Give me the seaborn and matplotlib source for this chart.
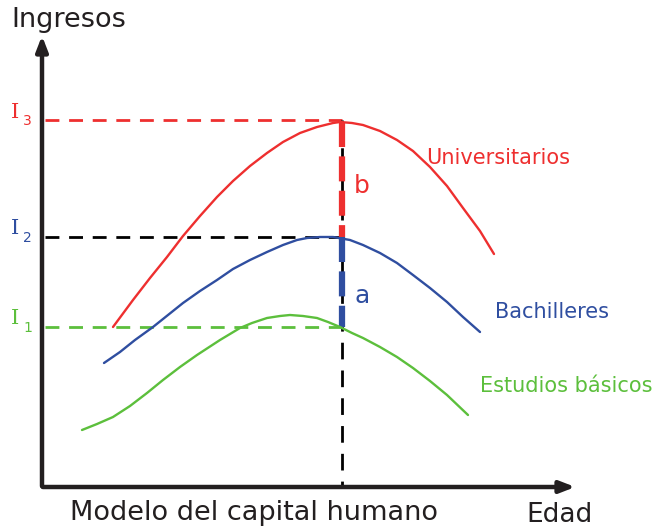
import seaborn as sns
import matplotlib.pyplot as plt
import pandas as pd

# Curve points (x = edad, y = ingresos; screen units, y grows downward)
univ_x = [113, 133, 150, 167, 183, 200, 217, 233, 250, 267, 283, 300, 317, 333, 340,
          352, 363, 380, 397, 413, 430, 447, 463, 480, 494]
univ_y = [327, 300, 278, 257, 236, 216, 197, 181, 166, 153, 142, 133, 127, 123, 122,
          123, 125, 131, 140, 151, 167, 186, 208, 231, 254]
bach_x = [104, 120, 135, 153, 168, 183, 200, 217, 233, 250, 267, 283, 297, 307, 320,
          333, 350, 363, 380, 397, 413, 430, 447, 463, 480]
bach_y = [363, 352, 340, 327, 315, 303, 291, 280, 269, 260, 252, 245, 240, 238, 237,
          237, 240, 245, 253, 263, 275, 288, 302, 317, 332]
basic_x = [82, 97, 113, 130, 147, 163, 180, 197, 220, 240, 252, 267, 280, 290, 303,
           317, 328, 340, 352, 363, 380, 397, 413, 430, 447, 468]
basic_y = [430, 424, 417, 406, 393, 380, 367, 355, 340, 328, 323, 318, 316, 315, 316,
           318, 322, 327, 333, 338, 347, 357, 368, 381, 395, 415]

groups = ["Universitarios", "Bachilleres", "Estudios básicos"]
levels = {"3": 120, "2": 237, "1": 327}
x_peak = 342

red, blue, green = "#ee2f2f", "#2f4ea0", "#5cbf3c"

df = pd.concat([
    pd.DataFrame({"edad": univ_x, "ingresos": univ_y, "grupo": groups[0]}),
    pd.DataFrame({"edad": bach_x, "ingresos": bach_y, "grupo": groups[1]}),
    pd.DataFrame({"edad": basic_x, "ingresos": basic_y, "grupo": groups[2]}),
])

sns.set_style("white")
fig = plt.figure(figsize=(6.54, 5.28), dpi=100)
ax = fig.add_axes([0, 0, 1, 1])
ax.set_xlim(0, 654)
ax.set_ylim(528, 0)
ax.axis("off")

# axes with arrows
ax.annotate("", xy=(42, 33), xytext=(42, 489),
            arrowprops=dict(arrowstyle="-|>,head_width=0.35,head_length=0.9", lw=3.2, color="#231f20"))
ax.annotate("", xy=(578, 487), xytext=(40, 487),
            arrowprops=dict(arrowstyle="-|>,head_width=0.35,head_length=0.9", lw=3.2, color="#231f20"))

# dashed guide lines
dash = (0, (5, 3.5))
ax.plot([45, x_peak], [levels["3"]] * 2, color=red, lw=2, linestyle=dash)
ax.plot([45, x_peak], [levels["2"]] * 2, color="black", lw=2, linestyle=dash)
ax.plot([45, x_peak], [levels["1"]] * 2, color=green, lw=2, linestyle=dash)
ax.plot([x_peak, x_peak], [levels["3"], 487], color="black", lw=2, linestyle=(0, (6, 4)))
ax.plot([x_peak, x_peak], [levels["3"] + 2, levels["2"]], color=red, lw=4.5, linestyle=(0, (4, 1.5)))
ax.plot([x_peak, x_peak], [levels["2"], levels["1"]], color=blue, lw=4.5, linestyle=(0, (4, 1.5)))

sns.lineplot(data=df, x="edad", y="ingresos", hue="grupo", palette=[red, blue, green],
             sort=False, estimator=None, lw=1.7, legend=False, ax=ax)

# labels
ax.text(11, 20, "Ingresos", fontsize=19.5, color="#231f20", va="center")
ax.text(70, 513, "Modelo del capital humano", fontsize=19.5, color="#231f20", va="center")
ax.text(526, 515, "Edad", fontsize=19, color="#231f20", va="center")
for name, col in [("3", red), ("2", blue), ("1", green)]:
    yy = levels[name] - 8
    ax.text(11, yy, "I", fontsize=15, color=col, va="center", family="DejaVu Serif")
    ax.text(23, yy + 9, name, fontsize=10, color=col, va="center")
ax.text(426, 158, "Universitarios", fontsize=15, color=red, va="center")
ax.text(495, 312, "Bachilleres", fontsize=15, color=blue, va="center")
ax.text(480, 386, "Estudios básicos", fontsize=15, color=green, va="center")
ax.text(354, 186, "b", fontsize=18, color=red, va="center")
ax.text(354, 296, "a", fontsize=18, color=blue, va="center")

fig.savefig("out.png", dpi=100)
